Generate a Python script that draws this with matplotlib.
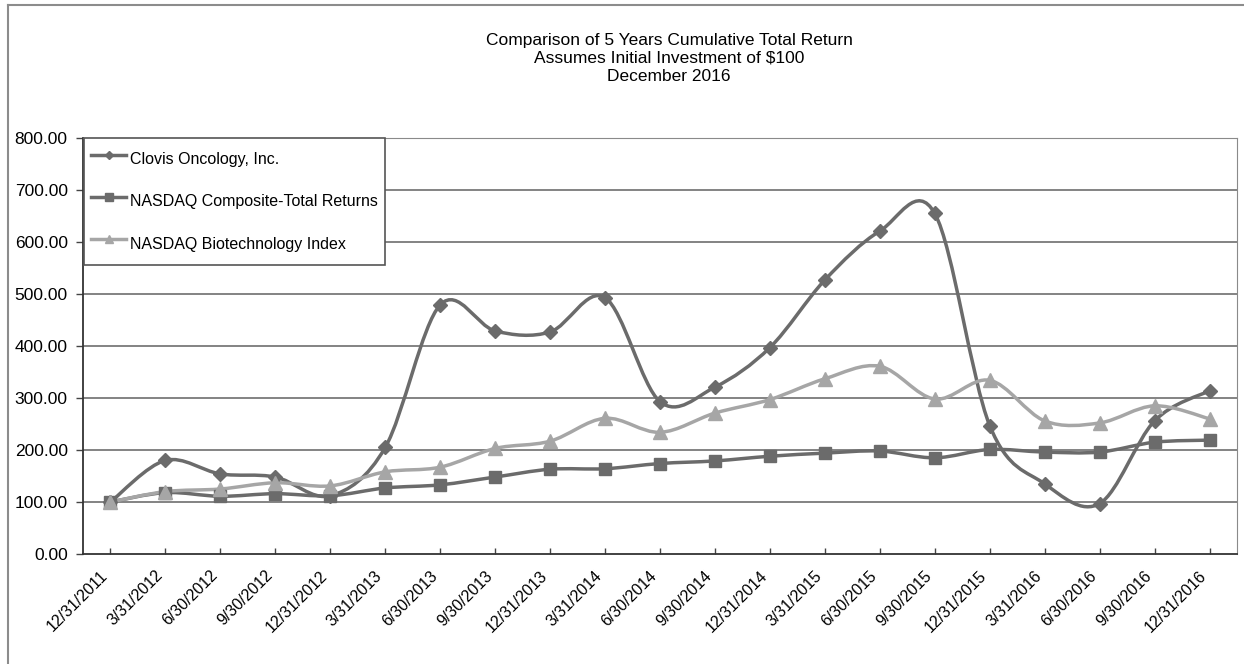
import matplotlib
matplotlib.use("Agg")
import matplotlib.pyplot as plt
from matplotlib.path import Path
from matplotlib.patches import PathPatch
from matplotlib.lines import Line2D
import numpy as np

plt.rcParams['font.family'] = ['Liberation Sans', 'DejaVu Sans']

dates = ["12/31/2011", "3/31/2012", "6/30/2012", "9/30/2012", "12/31/2012",
         "3/31/2013", "6/30/2013", "9/30/2013", "12/31/2013", "3/31/2014",
         "6/30/2014", "9/30/2014", "12/31/2014", "3/31/2015", "6/30/2015",
         "9/30/2015", "12/31/2015", "3/31/2016", "6/30/2016", "9/30/2016",
         "12/31/2016"]

clovis = [100, 180, 154, 148, 112, 205, 479, 429, 427, 493, 293, 321, 397,
          527, 621, 655, 247, 135, 97, 256, 314]
nasdaq = [100, 118, 111, 116, 112, 127, 133, 148, 163, 164, 174, 179, 188,
          194, 198, 185, 201, 196, 196, 215, 219]
biotech = [100, 120, 125, 137, 131, 158, 167, 203, 217, 261, 234, 271, 297,
           337, 361, 298, 334, 256, 252, 285, 260]

series_names = ["Clovis Oncology, Inc.", "NASDAQ Composite-Total Returns",
                "NASDAQ Biotechnology Index"]
y_ticks = [0, 100, 200, 300, 400, 500, 600, 700, 800]

colors = ["#6b6b6b", "#6b6b6b", "#a6a6a6"]
markers = ["D", "s", "^"]
msizes = [7.5, 8.5, 9.5]


def smooth_path(xs, ys):
    n = len(xs)
    verts = [(xs[0], ys[0])]
    codes = [Path.MOVETO]
    for i in range(n - 1):
        p0 = i - 1 if i > 0 else i
        p3 = i + 2 if i + 2 < n else i + 1
        c1 = (xs[i] + (xs[i + 1] - xs[p0]) / 6.0, ys[i] + (ys[i + 1] - ys[p0]) / 6.0)
        c2 = (xs[i + 1] - (xs[p3] - xs[i]) / 6.0, ys[i + 1] - (ys[p3] - ys[i]) / 6.0)
        verts += [c1, c2, (xs[i + 1], ys[i + 1])]
        codes += [Path.CURVE4] * 3
    return Path(verts, codes)


fig = plt.figure(figsize=(12.44, 6.64), dpi=100)
ax = fig.add_axes([83 / 1244, 1 - 554 / 664, (1237 - 83) / 1244, (554 - 138) / 664])

x = np.arange(len(dates))
handles = []
for vals, name, c, m, ms in zip([clovis, nasdaq, biotech], series_names, colors, markers, msizes):
    p = smooth_path(list(x.astype(float)), [float(v) for v in vals])
    ax.add_patch(PathPatch(p, fill=False, edgecolor=c, lw=2.5, zorder=3,
                           capstyle='round', joinstyle='round'))
    ax.plot(x, vals, linestyle='none', marker=m, ms=ms, color=c, zorder=4)
    handles.append(Line2D([], [], color=c, lw=2.5, marker=m, ms=ms * 0.6, label=name))

ax.set_xlim(-0.5, len(dates) - 0.5)
ax.set_ylim(0, 800)
ax.set_yticks(y_ticks)
ax.set_yticklabels([f"{v:.2f}" for v in y_ticks], fontsize=12.5)
ax.set_xticks(x)
ax.set_xticklabels(dates, rotation=45, ha='right', fontsize=11.5)
ax.tick_params(axis='y', direction='out', length=5, width=1, color='#444444', pad=6)
ax.tick_params(axis='x', direction='in', length=4, width=1, color='#444444', pad=10)

for yv in y_ticks[1:]:
    ax.axhline(yv, color='#7a7a7a', lw=1.3, zorder=1)

ax.spines['left'].set_color('#333333')
ax.spines['left'].set_linewidth(1.3)
ax.spines['bottom'].set_color('#333333')
ax.spines['bottom'].set_linewidth(1.3)
ax.spines['top'].set_color('#8a8a8a')
ax.spines['right'].set_color('#8a8a8a')

leg = ax.legend(handles=handles, loc='upper left', bbox_to_anchor=(0.001, 1.0),
                borderaxespad=0, fontsize=11.5, frameon=True, fancybox=False,
                edgecolor='#555555', framealpha=1, handlelength=2.2,
                handleheight=2.3, handletextpad=0.2, labelspacing=0.91,
                borderpad=0.45)
leg.get_frame().set_linewidth(1.2)
leg.set_zorder(5)

fig.text(669 / 1244, 1 - 58.5 / 664, "Comparison of 5 Years Cumulative Total Return\n"
         "Assumes Initial Investment of $100\nDecember 2016",
         ha='center', va='center', fontsize=12.5, linespacing=1.22)

fig.add_artist(Line2D([8 / 1244, 8 / 1244], [0, 1 - 5 / 664], transform=fig.transFigure,
                      color='#8c8c8c', lw=1.5))
fig.add_artist(Line2D([8 / 1244, 1], [1 - 5 / 664, 1 - 5 / 664], transform=fig.transFigure,
                      color='#8c8c8c', lw=1.5))

fig.savefig("out.png", dpi=100)
